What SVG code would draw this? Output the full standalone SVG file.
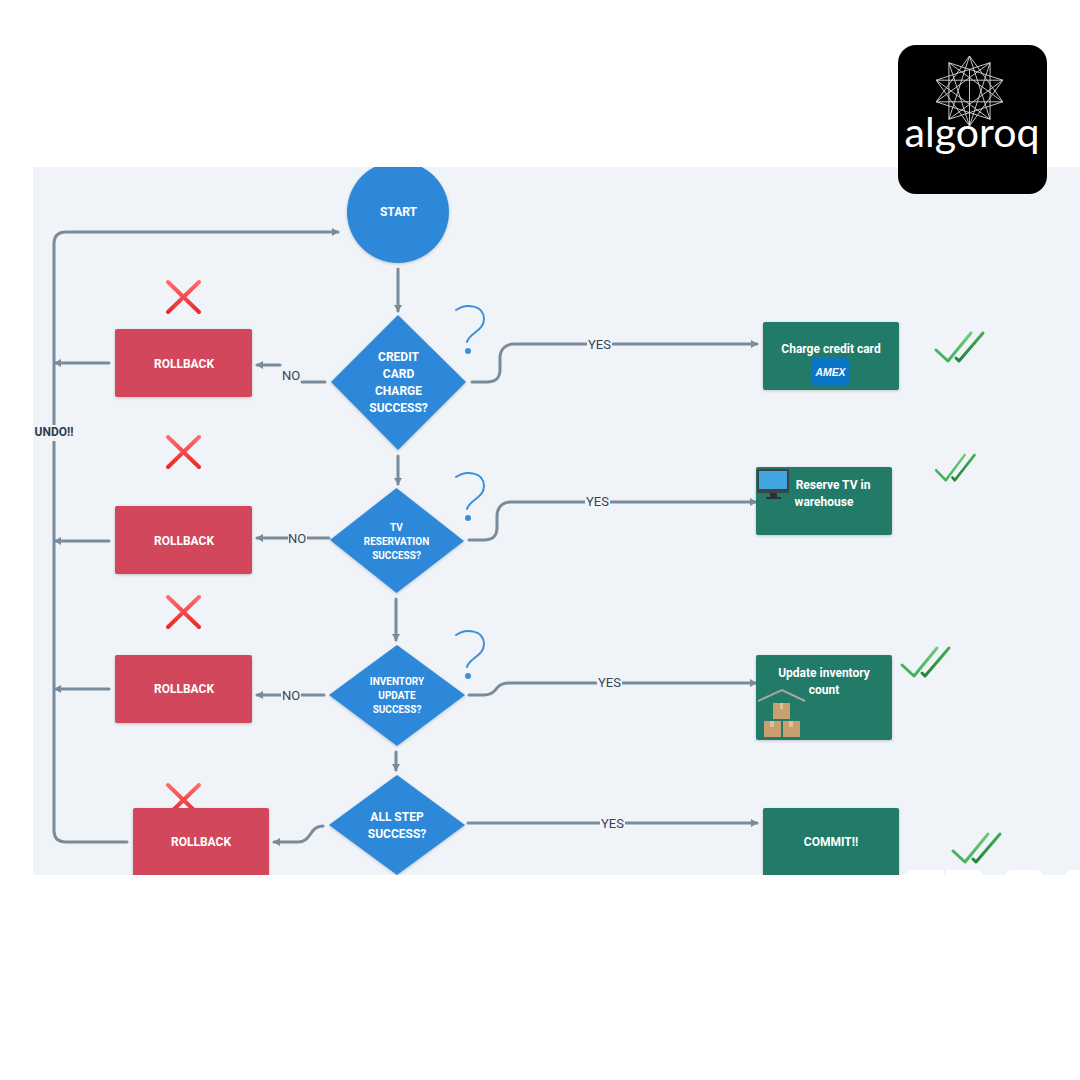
<svg xmlns="http://www.w3.org/2000/svg" width="1080" height="1080" viewBox="0 0 1080 1080">
<style>
.c{fill:none;stroke:#7a8b9c;stroke-width:3;stroke-linecap:round;stroke-linejoin:round}
.a{marker-end:url(#ah)}
.t{font-family:Roboto,"Liberation Sans",sans-serif;font-weight:700;fill:#fff;text-anchor:middle;dominant-baseline:central;font-size:12px}
.l{font-family:Roboto,"Liberation Sans",sans-serif;font-weight:400;fill:#3a4654;text-anchor:middle;dominant-baseline:central;font-size:13px}
.dia{fill:#2d88da;filter:url(#sh)}
.red{fill:#d3465c;filter:url(#sh)}
.grn{fill:#217a67;filter:url(#sh)}
.q{fill:none;stroke:#3b8fdc;stroke-width:2;stroke-linecap:round}
.x1{stroke:url(#xg);stroke-width:4;stroke-linecap:round;fill:none}
.ck1{fill:none;stroke:url(#cg1);stroke-width:3;stroke-linecap:round;stroke-linejoin:round}
.ck2{fill:none;stroke:url(#cg2);stroke-width:3;stroke-linecap:round;stroke-linejoin:round}
.box{fill:#c8a070}.tape{fill:#dcc09c}
</style>
<defs>
<marker id="ah" markerUnits="userSpaceOnUse" markerWidth="10" markerHeight="10" refX="6" refY="5" orient="auto"><path d="M0 1.500 L6 5 L0 8.500 Z" fill="#7a8b9c" stroke="#7a8b9c" stroke-linejoin="round"/></marker>
<filter id="sh" x="-10%" y="-10%" width="120%" height="125%"><feDropShadow dx="0" dy="1" stdDeviation="1.500" flood-color="#000" flood-opacity=".2"/></filter>
<linearGradient id="xg" x1="0" y1="0" x2="0" y2="1"><stop offset="0" stop-color="#ff6a6f"/><stop offset="1" stop-color="#e82a2e"/></linearGradient>
<linearGradient id="cg1" x1="0" y1="1" x2="1" y2="0"><stop offset="0" stop-color="#3aae55"/><stop offset="1" stop-color="#6ccb78"/></linearGradient>
<linearGradient id="cg2" x1="0" y1="1" x2="1" y2="0"><stop offset="0" stop-color="#24803a"/><stop offset="1" stop-color="#3fae52"/></linearGradient>
<clipPath id="panel"><rect x="33" y="167" width="1047" height="708"/></clipPath>
<path id="qm" class="q" d="M456 310 C466 303 484 305 484 319 C484 331 469 333 467 342"/>
<g id="x"><path class="x1" d="M168 -15 L199 15 M199 -15 L168 15"/></g>
<g id="ck"><path class="ck1" d="M0 17 L12 28 L35 0"/><path class="ck2" d="M20 25 L23 28 L47 0"/></g>
</defs>
<rect width="1080" height="1080" fill="#fff"/>
<rect x="33" y="167" width="1047" height="708" fill="#f0f3f7"/>

<g clip-path="url(#panel)">
<g id="connectors">
<path class="c a" d="M398 269V311"/>
<path class="c a" d="M398 456V484"/>
<path class="c a" d="M396 599V640"/>
<path class="c a" d="M396 752V770"/>
<path class="c" d="M302 382H325"/>
<path class="c a" d="M280 365H257"/>
<path class="c a" d="M329 538H257"/>
<path class="c a" d="M324 695H257"/>
<path class="c a" d="M323 826C309 826 312 842 298 842H274"/>
<path class="c a" d="M472 382H487C496 382 500 377 500 370V358C500 350 505 344 514 344H757"/>
<path class="c a" d="M469 540H484C493 540 497 535 497 528V516C497 508 502 502 511 502H756"/>
<path class="c a" d="M469 695H484C493 695 495 690 497 688C499 685 503 683 510 683H756"/>
<path class="c a" d="M468 823H757"/>
<path class="c a" d="M109 363H55"/>
<path class="c a" d="M109 541H55"/>
<path class="c a" d="M109 689H55"/>
<path class="c a" d="M127 842H66C58 842 54 838 54 830V244C54 236 58 232 66 232H338"/>
</g>

<g id="n-x4"><use href="#x" y="800"/></g>
<g id="n-start"><circle cx="398" cy="212" r="51" fill="#2d88da" filter="url(#sh)"/><text class="t" x="398.500" y="212">START</text></g>
<g id="n-d1"><polygon class="dia" points="398,315 466,382 398,450 331,382"/>
<text class="t" x="398.500" y="357">CREDIT</text><text class="t" x="398.500" y="374">CARD</text><text class="t" x="398.500" y="391">CHARGE</text><text class="t" x="398.500" y="408">SUCCESS?</text></g>
<g id="n-d2"><polygon class="dia" points="396.500,488 464,541 396.500,593 330,540"/>
<text class="t" style="font-size:10px" x="396.500" y="527">TV</text><text class="t" style="font-size:10px" x="396.500" y="541">RESERVATION</text><text class="t" style="font-size:10px" x="396.500" y="555">SUCCESS?</text></g>
<g id="n-d3"><polygon class="dia" points="397,645 465,695 397,746 329,695"/>
<text class="t" style="font-size:10px" x="397" y="681">INVENTORY</text><text class="t" style="font-size:10px" x="397" y="695">UPDATE</text><text class="t" style="font-size:10px" x="397" y="709">SUCCESS?</text></g>
<g id="n-d4"><polygon class="dia" points="397,775 465,825 397,875 329,825"/>
<text class="t" x="397" y="817">ALL STEP</text><text class="t" x="397" y="834">SUCCESS?</text></g>

<g id="n-r1"><rect class="red" x="115" y="329" width="137" height="68" rx="2"/><text class="t" x="184" y="364">ROLLBACK</text></g>
<g id="n-r2"><rect class="red" x="115" y="506" width="137" height="68" rx="2"/><text class="t" x="184" y="541">ROLLBACK</text></g>
<g id="n-r3"><rect class="red" x="115" y="655" width="137" height="68" rx="2"/><text class="t" x="184" y="689">ROLLBACK</text></g>
<g id="n-r4"><rect class="red" x="133" y="808" width="136" height="80" rx="2"/><text class="t" x="201" y="842">ROLLBACK</text></g>

<g id="n-g1"><rect class="grn" x="763" y="322" width="136" height="68" rx="2"/><text class="t" x="831" y="349">Charge credit card</text>
<rect x="812" y="358" width="37" height="27" rx="2" fill="#0a76c8"/><text x="830.500" y="372" text-anchor="middle" dominant-baseline="central" font-family="Liberation Sans,sans-serif" font-weight="700" font-style="italic" font-size="10" textLength="30" lengthAdjust="spacingAndGlyphs" fill="#fff">AMEX</text></g>
<g id="n-g2"><rect class="grn" x="756" y="467" width="136" height="68" rx="2"/><text class="t" x="833" y="485">Reserve TV in</text><text class="t" x="824" y="502">warehouse</text>
<rect x="757" y="469" width="32" height="24" rx="1" fill="#3c4249"/><rect x="759" y="471" width="28" height="18" fill="#42a5df"/><rect x="770" y="493" width="7" height="4" fill="#2c3035"/><rect x="766" y="497" width="15" height="2" fill="#2c3035"/></g>
<g id="n-g3"><rect class="grn" x="756" y="655" width="136" height="85" rx="2"/><text class="t" x="824" y="673">Update inventory</text><text class="t" x="824" y="690">count</text>
<path d="M758 701L782 690L805 701" fill="none" stroke="#a6a6a6" stroke-width="2"/>
<rect class="box" x="773" y="703" width="17" height="16"/><rect class="tape" x="780" y="703" width="3" height="6"/>
<rect class="box" x="764" y="721" width="17" height="16"/><rect class="tape" x="770" y="721" width="4" height="6"/>
<rect class="box" x="783" y="721" width="17" height="16"/><rect class="tape" x="789" y="721" width="4" height="6"/></g>
<g id="n-g4"><rect class="grn" x="763" y="808" width="136" height="80" rx="2"/><text class="t" x="831" y="842">COMMIT!!</text></g>
</g>

<g id="labels">
<text class="l" x="291" y="375">NO</text>
<rect x="288" y="530" width="19" height="16" fill="#f0f3f7"/><text class="l" x="297" y="538">NO</text>
<rect x="281" y="687" width="20" height="16" fill="#f0f3f7"/><text class="l" x="291" y="695">NO</text>
<rect x="587" y="336" width="25" height="16" fill="#f0f3f7"/><text class="l" x="599.500" y="344">YES</text>
<rect x="585" y="494" width="25" height="16" fill="#f0f3f7"/><text class="l" x="597.500" y="501.500">YES</text>
<rect x="597" y="675" width="25" height="16" fill="#f0f3f7"/><text class="l" x="609.500" y="682.500">YES</text>
<rect x="600" y="815" width="25" height="16" fill="#f0f3f7"/><text class="l" x="612.500" y="823">YES</text>
<rect x="33" y="425" width="42" height="16" fill="#f0f3f7"/><text class="l" style="font-weight:700;font-size:12px;fill:#2f3b49" x="54" y="432">UNDO!!</text>
</g>

<g id="marks">
<use href="#x" y="297"/><use href="#x" y="452"/><use href="#x" y="612"/>
<use href="#qm"/><circle cx="468" cy="351" r="3" fill="#3b8fdc"/>
<use href="#qm" y="167"/><circle cx="468" cy="518" r="3" fill="#3b8fdc"/>
<use href="#qm" y="325"/><circle cx="468" cy="676" r="3" fill="#3b8fdc"/>
<use href="#ck" transform="translate(936 333)"/>
<use href="#ck" transform="translate(936 455) scale(.82 .9)"/>
<use href="#ck" transform="translate(902 648)"/>
<use href="#ck" transform="translate(953 834)"/>
</g>

<g id="blobs" fill="#fff">
<rect x="906" y="870" width="77" height="14" rx="7"/><rect x="1005" y="870" width="38" height="14" rx="7"/><rect x="1065" y="870" width="25" height="14" rx="7"/>
<path d="M945 870V875" stroke="#e4e7ea"/>
</g>

<g id="logo">
<rect x="898" y="45" width="149" height="149" rx="18" fill="#000"/>
<g fill="none" stroke="#d8d8d8" stroke-width=".9" stroke-linejoin="miter">
<path d="M969.500 56L1002.800 101.800L948.900 119.300L948.900 62.700L1002.800 80.200L969.500 126L936.200 80.200L990.100 62.700L990.100 119.300L936.200 101.800Z"/>
<path d="M969.500 56L990.100 119.300L936.200 80.200L1002.800 80.200L948.900 119.300Z"/>
<path d="M969.500 126L948.900 62.700L1002.800 101.800L936.200 101.800L990.100 62.700Z"/>
<path d="M969.500 91V126M969.500 91V70"/>
</g>
<text x="972" y="147" text-anchor="middle" font-family="Lato,'Open Sans',sans-serif" font-weight="400" font-size="40" textLength="135" lengthAdjust="spacingAndGlyphs" fill="#fff">algoroq</text>
</g>
</svg>
